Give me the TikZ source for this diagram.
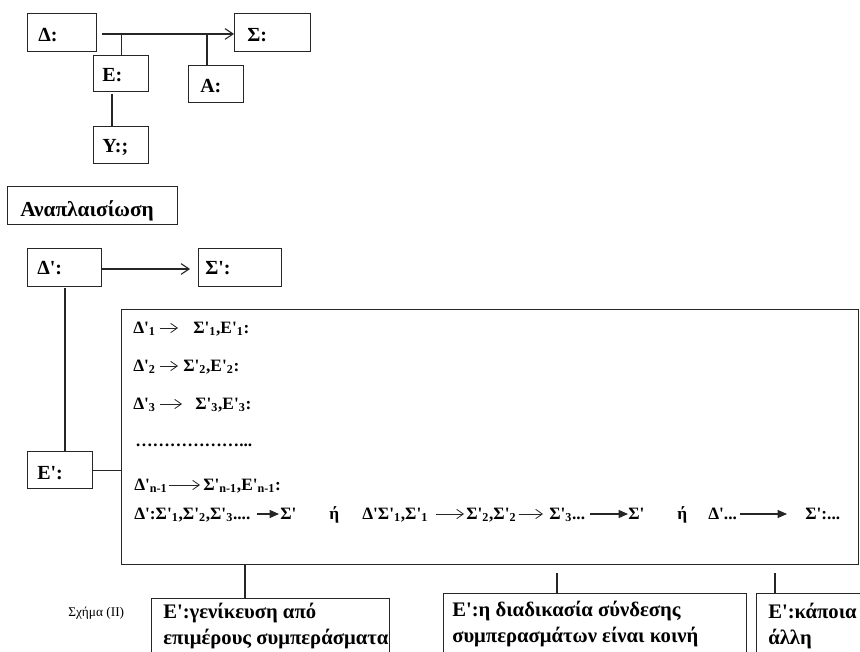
\documentclass[tikz,border=0pt]{standalone}
\usepackage{fontspec}
\setmainfont{Liberation Serif}[Ligatures=TeXOff]
\usetikzlibrary{arrows.meta}
\newcommand\sbs[1]{\textsubscript{#1}}
\newcommand\boxat[5]{\node[bx, minimum width={0.75pt*(#4-#2)}, minimum height={0.75pt*(#5-#3)}] (#1) at (#2,#3) {};}
\begin{document}
\begin{tikzpicture}[x=0.75pt,y=-0.75pt,
  ln/.style={line width=0.8pt, draw=black!85},
  bx/.style={draw=black!85, line width=0.8pt, rectangle, inner sep=0pt, anchor=north west},
  t14/.style={anchor=base west, inner sep=0pt, font=\bfseries\fontsize{15}{17}\selectfont},
  t13/.style={anchor=base west, inner sep=0pt, font=\bfseries\fontsize{13}{15}\selectfont},
  tbig/.style={anchor=base west, inner sep=0pt, font=\bfseries\fontsize{15.5}{18}\selectfont},
  capt/.style={anchor=base west, inner sep=0pt, font=\fontsize{10}{12}\selectfont},
  openarr/.style={ln, -{Straight Barb[length=6pt,width=8pt]}},
  smallarr/.style={ln, line width=0.6pt, -{Straight Barb[length=5pt,width=7pt]}},
  fillarr/.style={ln, -{Triangle[length=7pt,width=6pt]}},
]
\useasboundingbox (0,0) rectangle (860,652);
\clip (0,0) rectangle (860,652);
\fill[white] (0,0) rectangle (860,652);

% top part
\boxat{D}{27}{13}{96}{51}
\boxat{S}{234}{13}{310}{51}
\boxat{E}{93}{55}{148}{91}
\boxat{A}{188}{65}{243}{102}
\boxat{Y}{93}{126}{148}{163}
\node[t14] (Dt) at (38,42) {Δ:};
\node[t14] (St) at (247,42) {Σ:};
\node[t14] (Et) at (102,82) {Ε:};
\node[t14] (At) at (200,93) {Α:};
\node[t14] (Yt) at (102,153) {Υ:;};
\coordinate (h0) at (102,34);
\draw[openarr] (h0) -- (h0 -| S.west);
\draw[ln] (E.north) -- (E.north |- h0);
\coordinate (a0) at (207,34);
\draw[ln] (a0) -- (a0 |- A.north);
\coordinate (y0) at (112,94);
\draw[ln] (y0) -- (y0 |- Y.north);

% Anaplaisiosi
\boxat{R}{7}{186}{177}{224}
\node[t14, font=\bfseries\fontsize{16}{18}\selectfont] (Rt) at (20,217) {Αναπλαισίωση};

\boxat{Dp}{27}{248}{101}{286}
\boxat{Sp}{198}{248}{281}{286}
\node[t14] (Dpt) at (37,275) {Δ':};
\node[t14] (Spt) at (205,275) {Σ':};
\coordinate (dsp) at (190,269);
\draw[openarr] (Dp.east |- dsp) -- (dsp);

\boxat{Ep}{27}{451}{92}{488}
\node[t14] (Ept) at (37,479) {Ε':};
\coordinate (v0) at (65,288);
\draw[ln] (v0) -- (v0 |- Ep.north);

\boxat{B}{121}{309}{858}{564}
\draw[ln] (Ep.east) -- (Ep.east -| B.west);

% lines in big box
\node[t13] (l1a) at (133,333) {Δ'\sbs{1}};
\node[t13] (l1b) at (193,333) {Σ'\sbs{1},Ε'\sbs{1}:};
\draw[smallarr] ([shift={(4,-5)}]l1a.base east) -- ([shift={(-15,-5)}]l1b.base west);
\node[t13] (l2a) at (133,371) {Δ'\sbs{2}};
\node[t13] (l2b) at (183,371) {Σ'\sbs{2},Ε'\sbs{2}:};
\draw[smallarr] ([shift={(4,-5)}]l2a.base east) -- ([shift={(-5,-5)}]l2b.base west);
\node[t13] (l3a) at (133,409) {Δ'\sbs{3}};
\node[t13] (l3b) at (195,409) {Σ'\sbs{3},Ε'\sbs{3}:};
\draw[smallarr] ([shift={(4,-5)}]l3a.base east) -- ([shift={(-13,-5)}]l3b.base west);
\node[t13] (l4) at (135,446) {………………...};
\node[t13] (l5a) at (134,490) {Δ'\sbs{n-1}};
\node[t13] (l5b) at (203,490) {Σ'\sbs{n-1},Ε'\sbs{n-1}:};
\draw[smallarr] ([shift={(1,-5)}]l5a.base east) -- ([shift={(-3,-5)}]l5b.base west);

\node[t13] (p1) at (134,519) {Δ':Σ'\sbs{1},Σ'\sbs{2},Σ'\sbs{3}....};
\node[t13] (p2) at (280,519) {Σ'};
\node[t13] (p3) at (329,519) {ή};
\node[t13] (p4) at (362,519) {Δ'Σ'\sbs{1},Σ'\sbs{1}};
\node[t13] (p5) at (466,519) {Σ'\sbs{2},Σ'\sbs{2}};
\node[t13] (p6) at (549,519) {Σ'\sbs{3}...};
\node[t13] (p7) at (628,519) {Σ'};
\node[t13] (p8) at (677,519) {ή};
\node[t13] (p9) at (708,519) {Δ'...};
\node[t13] (p10) at (805,519) {Σ':...};
\draw[fillarr] ([shift={(6,-5)}]p1.base east) -- ([shift={(-1,-5)}]p2.base west);
\draw[smallarr] ([shift={(8,-5)}]p4.base east) -- ([shift={(-2,-5)}]p5.base west);
\draw[smallarr] ([shift={(2,-5)}]p5.base east) -- ([shift={(-6,-5)}]p6.base west);
\draw[fillarr] ([shift={(5,-5)}]p6.base east) -- ([shift={(0,-5)}]p7.base west);
\draw[fillarr] ([shift={(3,-5)}]p9.base east) -- ([shift={(-18,-5)}]p10.base west);

% bottom boxes
\boxat{B1}{151}{598}{389}{700}
\boxat{B2}{443}{593}{746}{700}
\boxat{B3}{756}{593}{900}{700}
\coordinate (c1) at (245,564);
\draw[ln] (c1) -- (c1 |- B1.north);
\coordinate (c2) at (557,573);
\draw[ln] (c2) -- (c2 |- B2.north);
\coordinate (c3) at (775,573);
\draw[ln] (c3) -- (c3 |- B3.north);
\node[tbig] (b1a) at (163,618) {Ε':γενίκευση από};
\node[tbig] (b1b) at (163,644) {επιμέρους συμπεράσματα};
\node[tbig] (b2a) at (452,616) {Ε':η διαδικασία σύνδεσης};
\node[tbig] (b2b) at (452,642) {συμπερασμάτων είναι κοινή};
\node[tbig] (b3a) at (768,618) {Ε':κάποια};
\node[tbig] (b3b) at (768,644) {άλλη};
\node[capt] (cp) at (68,616) {Σχήμα (II)};
\end{tikzpicture}
\end{document}
